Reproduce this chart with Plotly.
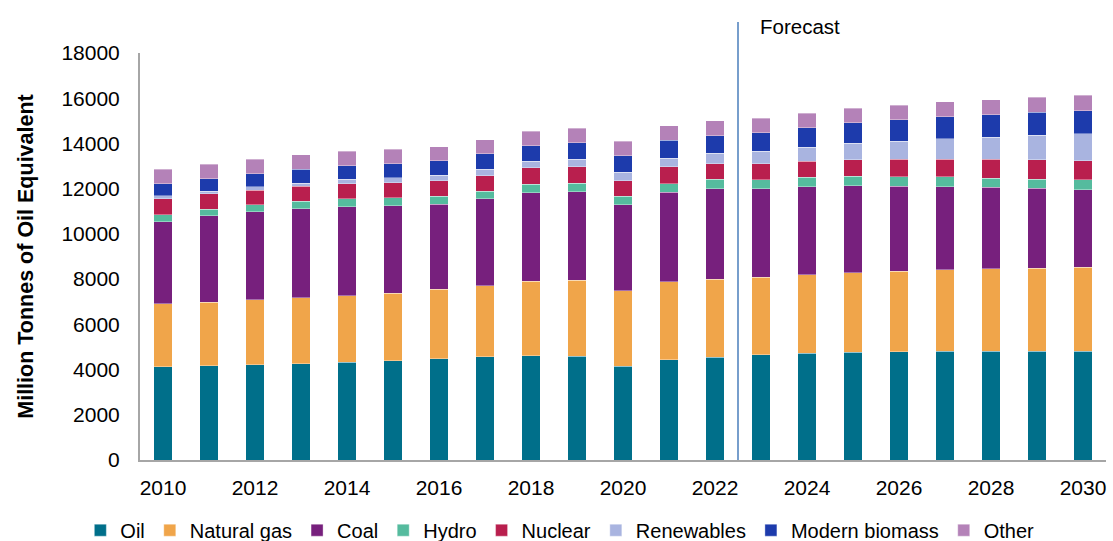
import plotly.graph_objects as go

years = list(range(2010, 2031))
oil = [4130, 4170, 4215, 4260, 4320, 4390, 4480, 4570, 4615, 4585, 4155, 4425, 4540, 4660, 4730, 4775, 4790, 4820, 4820, 4820, 4820]
natural_gas = [2770, 2800, 2875, 2920, 2935, 2980, 3080, 3140, 3300, 3375, 3320, 3460, 3450, 3420, 3465, 3510, 3555, 3585, 3630, 3670, 3700]
coal = [3640, 3835, 3890, 3935, 3950, 3880, 3745, 3845, 3905, 3905, 3820, 3965, 4010, 3920, 3890, 3850, 3760, 3685, 3610, 3525, 3435]
hydro = [296, 295, 310, 325, 340, 340, 370, 340, 370, 370, 370, 370, 415, 400, 410, 415, 425, 430, 410, 410, 430]
nuclear = [720, 680, 635, 665, 675, 680, 680, 680, 735, 735, 690, 750, 680, 705, 725, 735, 765, 780, 825, 855, 840]
renewables = [120, 115, 150, 145, 190, 205, 235, 280, 295, 340, 370, 385, 470, 545, 620, 720, 795, 900, 990, 1075, 1195]
modern_biomass = [545, 545, 590, 605, 605, 635, 650, 695, 680, 720, 740, 795, 780, 825, 855, 915, 960, 975, 985, 1015, 1030]
other = [635, 635, 635, 635, 650, 635, 620, 605, 650, 635, 635, 635, 650, 650, 650, 635, 650, 665, 665, 665, 680]

series_names = ["Oil", "Natural gas", "Coal", "Hydro", "Nuclear", "Renewables", "Modern biomass", "Other"]
series_values = [oil, natural_gas, coal, hydro, nuclear, renewables, modern_biomass, other]
colors = ["#006F8A", "#F0A54A", "#77207D", "#55BB9E", "#B91F4E", "#A9B4E0", "#1D3BAC", "#B482B8"]

x_tick_vals = list(range(2010, 2031, 2))
y_tick_vals = list(range(0, 18001, 2000))
forecast_x = 2022.5

FONT = "Liberation Sans, Arial, sans-serif"

fig = go.Figure()
for name, vals, col in zip(series_names, series_values, colors):
    fig.add_trace(go.Bar(
        x=years, y=vals, name=name,
        marker=dict(color=col, line=dict(color="rgba(255,255,255,0.6)", width=0.6)),
    ))

fig.update_layout(
    barmode="stack",
    bargap=0.6,
    width=1113, height=541,
    margin=dict(l=140, r=7, t=53, b=81, autoexpand=False),
    plot_bgcolor="white", paper_bgcolor="white",
    font=dict(family=FONT, size=21, color="#000000"),
    showlegend=True,
    legend=dict(
        orientation="h",
        xref="container", yref="container",
        x=0.503, xanchor="center",
        y=0.02, yanchor="middle",
        font=dict(size=20, color="#000000"),
        traceorder="normal",
        itemwidth=30,
    ),
)

fig.update_xaxes(
    range=[2009.5, 2030.5],
    tickmode="array", tickvals=x_tick_vals, ticktext=[str(v) for v in x_tick_vals],
    showgrid=False, zeroline=False,
    showline=True, linecolor="#A6A6A6", linewidth=2,
    ticks="", ticklabelstandoff=8,
    tickfont=dict(size=21),
)
fig.update_yaxes(
    range=[0, 18000],
    tickmode="array", tickvals=y_tick_vals, ticktext=[str(v) for v in y_tick_vals],
    showgrid=False, zeroline=False,
    showline=True, linecolor="#A6A6A6", linewidth=2,
    ticks="", ticklabelstandoff=14,
    tickfont=dict(size=21),
    title=dict(text="<b>Million Tonnes of Oil Equivalent</b>", font=dict(size=21.5), standoff=22),
)

fig.add_shape(
    type="line", xref="x", yref="paper",
    x0=forecast_x, x1=forecast_x, y0=0, y1=1.076,
    line=dict(color="#4A7EBB", width=1.5),
)
fig.add_annotation(
    text="Forecast", xref="x", yref="paper",
    x=forecast_x, y=1.064, xanchor="left", yanchor="middle",
    xshift=20, showarrow=False,
    font=dict(size=20.5, color="#000000"),
)

fig.write_html(
    "out.html",
    config={"displayModeBar": False},
    post_script="document.body.style.margin='0';document.body.style.overflow='hidden';",
)
